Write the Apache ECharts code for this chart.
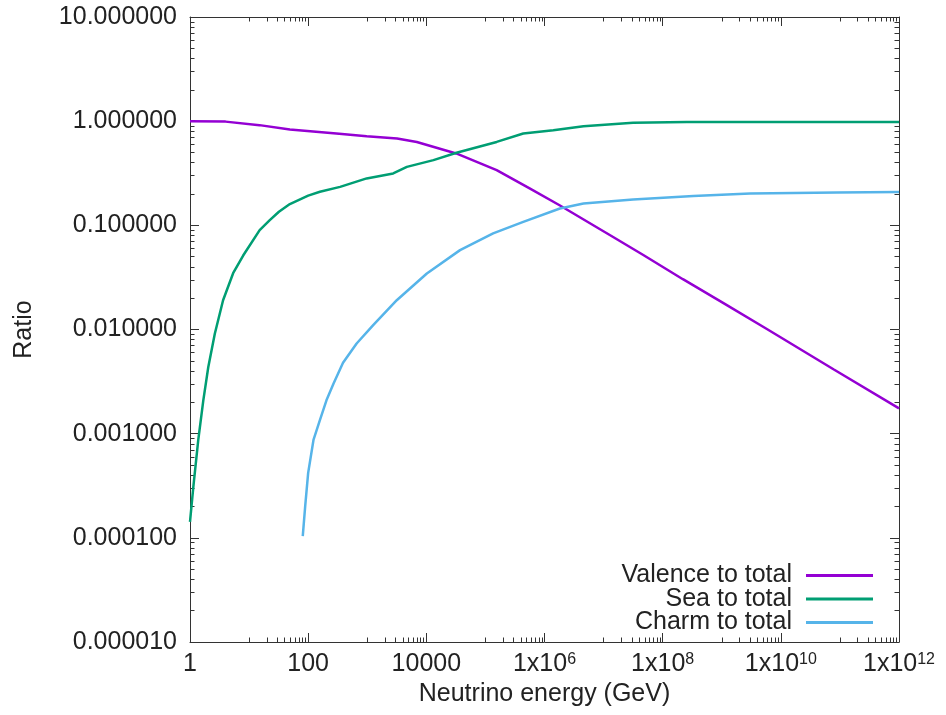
<!DOCTYPE html>
<html><head><meta charset="utf-8">
<script src="https://cdn.jsdelivr.net/npm/echarts@6/dist/echarts.min.js"></script>
<style>html,body{margin:0;padding:0;background:#fff}#c{width:946px;height:715px}</style>
</head><body><div id="c"></div>
<script>
// ---- data ----
const xMajorTicks = [1, 100, 1e4, 1e6, 1e8, 1e10, 1e12];
const yMajorTicks = [1e-5, 1e-4, 1e-3, 1e-2, 1e-1, 1, 10];
const xMinorFactors = [10, 20, 30, 40, 50, 60, 70, 80, 90];
const yMinorFactors = [2, 3, 4, 5, 6, 7, 8, 9];

const seriesNames = ['Valence to total', 'Sea to total', 'Charm to total'];

const valenceE = [1, 4, 15, 49, 300, 980, 3200, 6900, 32000, 1.55e5, 5.6e5, 1.8e6, 1.45e7, 4.7e7, 2.2e8, 1.07e9, 5.8e9, 7.9e10, 1e12];
const valenceR = [1.0, 0.99, 0.916, 0.832, 0.762, 0.718, 0.682, 0.632, 0.490, 0.339, 0.226, 0.156, 0.0773, 0.0519, 0.0304, 0.0179, 0.0101, 0.00413, 0.00175];

const seaE = [1, 1.14, 1.38, 1.68, 2.04, 2.63, 3.63, 5.37, 7.94, 15.1, 22.4, 32, 49, 100, 158, 347, 977, 2750, 4680, 13200, 32400, 1.55e5, 4.37e5, 1.41e6, 4.57e6, 3.16e7, 2.57e8, 1e12];
const seaR = [1.42e-4, 3.1e-4, 8.7e-4, 2.09e-3, 4.37e-3, 9.1e-3, 0.0191, 0.0347, 0.0513, 0.0899, 0.112, 0.135, 0.160, 0.193, 0.210, 0.234, 0.282, 0.315, 0.364, 0.423, 0.497, 0.632, 0.762, 0.820, 0.895, 0.964, 0.984, 0.984];

const charmE = [81, 89, 100, 123, 158, 204, 269, 389, 661, 1260, 3160, 10200, 37200, 1.35e5, 4.37e5, 1.82e6, 4.57e6, 3.16e7, 3.31e8, 3.02e9, 8.9e10, 1e12];
const charmR = [1.04e-4, 2.0e-4, 4.2e-4, 8.7e-4, 1.35e-3, 2.09e-3, 3.03e-3, 4.79e-3, 7.34e-3, 0.0110, 0.0191, 0.0345, 0.0578, 0.0836, 0.108, 0.145, 0.162, 0.177, 0.191, 0.202, 0.207, 0.209];

const colors = ['#9400d3', '#009e73', '#56b4e9'];

// ---- build ----
const FONT = 'Liberation Sans';
const TXT = '#222';
const AX = '#333';

const xMinorTicks = [];
for (let i = 0; i < xMajorTicks.length - 1; i++) for (const f of xMinorFactors) xMinorTicks.push(xMajorTicks[i] * f);
const yMinorTicks = [];
for (let i = 0; i < yMajorTicks.length - 1; i++) for (const f of yMinorFactors) yMinorTicks.push(yMajorTicks[i] * f);

const pairs = (xs, ys) => xs.map((x, i) => [x, ys[i]]);

function xAxis(position, ticks, len, main) {
  return {
    type: 'log', logBase: 10, min: 1, max: 1e12, position: position,
    axisLine: { show: main !== null, onZero: false, lineStyle: { color: AX, width: 1 } },
    axisTick: { show: true, inside: true, length: len, customValues: ticks, lineStyle: { color: AX, width: 1 } },
    axisLabel: main ? {
      show: true, customValues: xMajorTicks, fontSize: 25, lineHeight: 25, color: TXT, fontFamily: FONT, margin: 10,
      formatter: v => { const n = Math.round(Math.log10(v)); return n < 6 ? String(Math.round(v)) : '1x10{sup|' + n + '}'; },
      rich: { sup: { fontSize: 16, lineHeight: 16, verticalAlign: 'top', color: TXT, fontFamily: FONT } }
    } : { show: false },
    splitLine: { show: false }, minorTick: { show: false },
    name: main ? 'Neutrino energy (GeV)' : '', nameLocation: 'middle', nameGap: 34,
    nameTextStyle: { fontSize: 25, color: TXT, fontFamily: FONT }
  };
}
function yAxis(position, ticks, len, main) {
  return {
    type: 'log', logBase: 10, min: 1e-5, max: 10, position: position,
    axisLine: { show: main !== null, onZero: false, lineStyle: { color: AX, width: 1 } },
    axisTick: { show: true, inside: true, length: len, customValues: ticks, lineStyle: { color: AX, width: 1 } },
    axisLabel: main ? {
      show: true, customValues: yMajorTicks, fontSize: 25, color: TXT, fontFamily: FONT, margin: 13,
      formatter: v => v.toFixed(6)
    } : { show: false },
    splitLine: { show: false }, minorTick: { show: false },
    name: main ? 'Ratio' : '', nameLocation: 'middle', nameGap: 153, nameRotate: 90,
    nameTextStyle: { fontSize: 25, color: TXT, fontFamily: FONT }
  };
}

const option = {
  animation: false,
  backgroundColor: '#fff',
  grid: { left: 190, right: 47, top: 17, bottom: 73, containLabel: false },
  xAxis: [
    xAxis('bottom', xMajorTicks, 9, true),
    xAxis('bottom', xMinorTicks, 4.5, null),
    xAxis('top', xMajorTicks, 9, false),
    xAxis('top', xMinorTicks, 4.5, null)
  ],
  yAxis: [
    yAxis('left', yMajorTicks, 9, true),
    yAxis('left', yMinorTicks, 4.5, null),
    yAxis('right', yMajorTicks, 9, false),
    yAxis('right', yMinorTicks, 4.5, null)
  ],
  legend: seriesNames.map((name, i) => ({
    data: [name], right: 73, top: [563, 586.5, 610][i], orient: 'horizontal', align: 'right',
    icon: 'rect', itemWidth: 67, itemHeight: 3, padding: 0, selectedMode: false,
    textStyle: { fontSize: 25, lineHeight: 25, color: TXT, fontFamily: FONT, padding: [0, 9, 0, 0] }
  })),
  series: [
    { name: seriesNames[0], type: 'line', data: pairs(valenceE, valenceR) },
    { name: seriesNames[1], type: 'line', data: pairs(seaE, seaR) },
    { name: seriesNames[2], type: 'line', data: pairs(charmE, charmR) }
  ].map((s, i) => Object.assign(s, {
    xAxisIndex: 0, yAxisIndex: 0, showSymbol: false, symbol: 'none', clip: true,
    color: colors[i], lineStyle: { color: colors[i], width: 2.5 }
  }))
};
const chart = echarts.init(document.getElementById('c'), null, { renderer: 'canvas' });
chart.setOption(option);
</script></body></html>
